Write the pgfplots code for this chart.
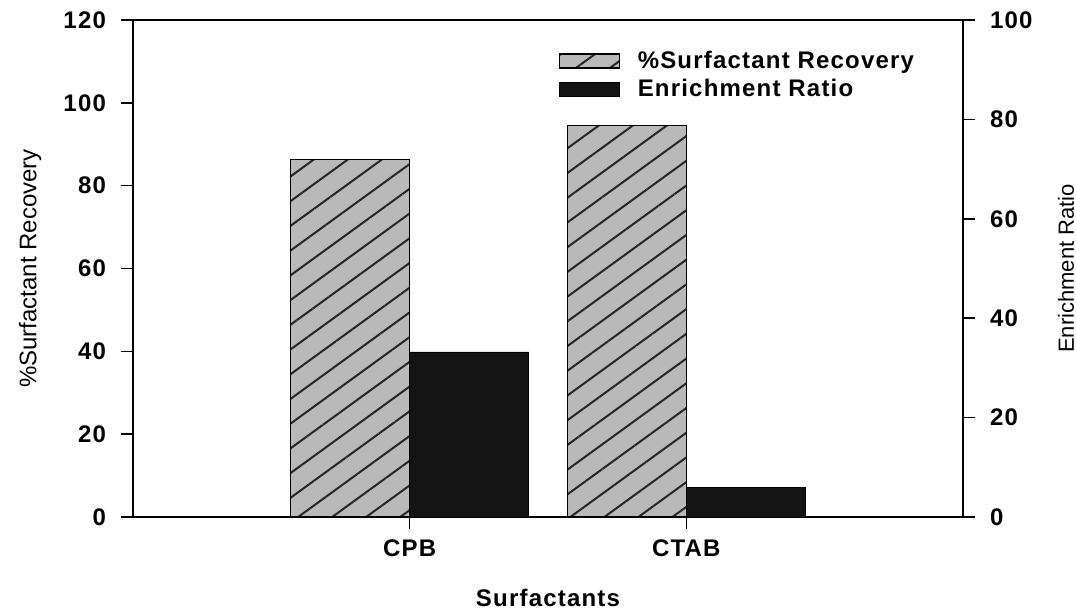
\documentclass[border=0pt]{standalone}
\usepackage{fontspec}
\setmainfont{Liberation Sans}
\newfontfamily\spaced{Liberation Sans}[LetterSpace=5]
\usepackage{pgfplots}
\pgfplotsset{compat=1.18}
\usetikzlibrary{patterns.meta}
\tikzset{hatchbar/.style={draw=black, line width=0.6pt, fill=gray!55,
  postaction={pattern={Lines[angle=36,distance=10pt,line width=1pt]}, pattern color=black!85}}}
\pgfplotsset{boxlegend/.style={legend image code/.code={\draw[##1] (0pt,-3.5pt) rectangle (30pt,3.5pt);}}}
\begin{document}
\begin{tikzpicture}
\useasboundingbox (-66.5pt,-46.5pt) rectangle (471.5pt,258.5pt);
\begin{axis}[
  scale only axis, width=415pt, height=248.5pt,
  xmin=0, xmax=3, ymin=0, ymax=120,
  xtick={1,2}, xticklabels={CPB,CTAB},
  ytick={0,20,...,120},
  xtick pos=bottom, ytick pos=left, tick align=outside,
  major tick length=6pt,
  axis line style={line width=0.8pt},
  tick style={line width=0.8pt, black},
  /pgf/number format/assume math mode=true,
  ticklabel style={font=\spaced\bfseries\fontsize{12}{14}\selectfont},
  yticklabel style={xshift=-4pt},
  xticklabel style={yshift=-2pt},
  xlabel={Surfactants},
  xlabel style={font=\spaced\bfseries\fontsize{12}{14}\selectfont,
    at={(axis description cs:0.5,-0.163)}, anchor=center},
  ylabel={\%Surfactant Recovery},
  ylabel style={font=\fontsize{12}{14}\selectfont,
    at={(axis description cs:-0.124,0.5)}, anchor=center},
]
\addplot[ybar, bar width=0.43, bar shift=-0.215, hatchbar] coordinates {(1,86.3) (2,94.6)};
\end{axis}
\begin{axis}[
  scale only axis, width=415pt, height=248.5pt,
  xmin=0, xmax=3, ymin=0, ymax=100,
  axis y line*=right, axis x line=none,
  ytick={0,20,...,100}, tick align=outside,
  major tick length=6pt,
  axis line style={line width=0.8pt},
  tick style={line width=0.8pt, black},
  /pgf/number format/assume math mode=true,
  ticklabel style={font=\spaced\bfseries\fontsize{12}{14}\selectfont},
  yticklabel style={xshift=4pt},
  ylabel={Enrichment Ratio},
  ylabel style={font=\fontsize{11}{13}\selectfont,
    at={(axis description cs:1.124,0.5)}, anchor=center},
  legend style={draw=none, fill=none, at={(0.505,0.955)}, anchor=north west,
    font=\spaced\bfseries\fontsize{12}{14}\selectfont, row sep=0pt, column sep=7pt},
  legend cell align=left,
]
\addlegendimage{hatchbar, boxlegend}
\addlegendentry{\%Surfactant Recovery}
\addplot[ybar, bar width=0.43, bar shift=0.215, fill=black!92, draw=black, boxlegend] coordinates {(1,33.2) (2,5.9)};
\addlegendentry{Enrichment Ratio}
\end{axis}
\end{tikzpicture}
\end{document}
